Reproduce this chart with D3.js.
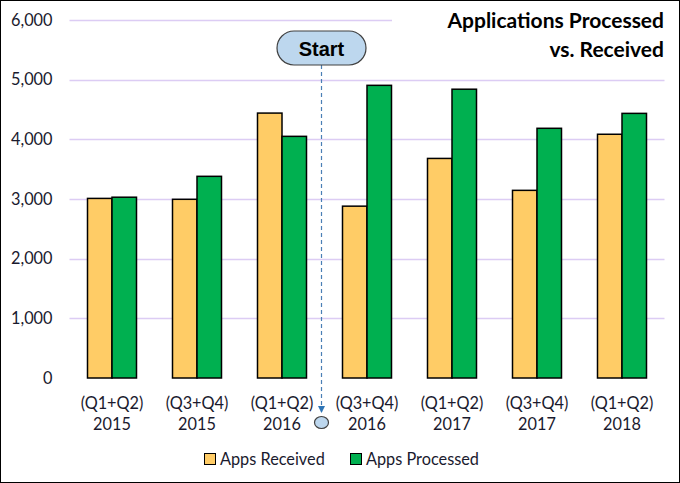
<!DOCTYPE html>
<html><head><meta charset="utf-8">
<script src="https://cdn.jsdelivr.net/npm/d3@7"></script>
<style>
html,body{margin:0;padding:0;background:#fff;}
svg{display:block;font-family:"Lato","Liberation Sans",sans-serif;}
</style></head>
<body>
<svg id="chart" width="680" height="483"></svg>
<script>
const periods = ["(Q1+Q2)","(Q3+Q4)","(Q1+Q2)","(Q3+Q4)","(Q1+Q2)","(Q3+Q4)","(Q1+Q2)"];
const years = ["2015","2015","2016","2016","2017","2017","2018"];
const appsReceived = [3010, 2995, 4440, 2880, 3680, 3145, 4085];
const appsProcessed = [3030, 3380, 4050, 4905, 4840, 4185, 4435];
const seriesNames = ["Apps Received","Apps Processed"];
const seriesColors = ["#FFCC66","#00B050"];
const yTicks = [0,1000,2000,3000,4000,5000,6000];
const titleLines = ["Applications Processed","vs. Received"];

(function(){
const svg = d3.select("#chart");
const W = 680, H = 483;
const pLeft = 69.5, pRight = 664.5, pTop = 20, pBottom = 378;
const fs = 16.3;

svg.append("rect").attr("x",0.5).attr("y",0.5).attr("width",W-1).attr("height",H-1)
  .attr("fill","#fff").attr("stroke","#000").attr("stroke-width",1);

const idx = d3.range(periods.length);
const x0 = d3.scaleBand().domain(idx).range([pLeft,pRight]).paddingInner(36/85).paddingOuter(18/85);
const x1 = d3.scaleBand().domain([0,1]).range([0,x0.bandwidth()]);
const y = d3.scaleLinear().domain([0,6000]).range([pBottom,pTop]);

// gridlines
svg.append("g").selectAll("line").data(yTicks.filter(d=>d>0)).join("line")
  .attr("x1",pLeft).attr("x2",pRight)
  .attr("y1",d=>Math.round(y(d))+0.5).attr("y2",d=>Math.round(y(d))+0.5)
  .attr("stroke","#DCCCF4").attr("stroke-width",1.3);

// y axis
const yAxis = svg.append("g").attr("transform",`translate(${pLeft},0)`)
  .call(d3.axisLeft(y).tickValues(yTicks).tickFormat(d3.format(",")).tickSize(0).tickPadding(17));
yAxis.select(".domain").remove();
yAxis.selectAll("text").attr("font-size",fs).attr("fill","#1a1a2e").attr("font-family","Lato, sans-serif");

// bars
const data = idx.map(i=>[appsReceived[i], appsProcessed[i]]);
const groups = svg.append("g").selectAll("g").data(data).join("g")
  .attr("transform",(d,i)=>`translate(${x0(i)},0)`);
groups.selectAll("rect").data(d=>d.map((v,k)=>({v,k}))).join("rect")
  .attr("x",d=>x1(d.k)).attr("y",d=>y(d.v))
  .attr("width",x1.bandwidth()).attr("height",d=>y(0)-y(d.v))
  .attr("fill",d=>seriesColors[d.k]).attr("stroke","#000").attr("stroke-width",1.5);

// x axis labels
const xAxis = svg.append("g").attr("transform",`translate(0,${pBottom})`)
  .call(d3.axisBottom(x0).tickSize(0).tickFormat(()=>""));
xAxis.select(".domain").remove();
xAxis.selectAll(".tick text").remove();
xAxis.selectAll(".tick").each(function(i){
  const t = d3.select(this).append("text").attr("fill","#1a1a2e").attr("font-size",fs)
    .attr("text-anchor","middle").attr("font-family","Lato, sans-serif");
  t.append("tspan").attr("x",0).attr("y",31).text(periods[i]);
  t.append("tspan").attr("x",0).attr("y",52).text(years[i]);
});

// title
const title = svg.append("g");
title.append("rect").attr("x",392).attr("y",5).attr("width",280).attr("height",62).attr("fill","#fff");
titleLines.forEach((s,k)=>{
  title.append("text").attr("x",664).attr("y",28+k*29).attr("text-anchor","end")
    .attr("font-size",21).attr("font-weight","bold").attr("fill","#000")
    .attr("font-family","Lato, sans-serif").text(s);
});

// Start annotation
const sx = x0(2) + x0.bandwidth() + (x0.step()-x0.bandwidth())/2 - 3;
const defs = svg.append("defs");
defs.append("marker").attr("id","arr").attr("viewBox","0 0 10 10").attr("refX",10).attr("refY",5)
  .attr("markerWidth",7).attr("markerHeight",7).attr("orient","auto").attr("markerUnits","userSpaceOnUse")
  .append("path").attr("d","M0,0 L10,5 L0,10 Z").attr("fill","#2E75B6");
svg.append("line").attr("x1",sx).attr("x2",sx).attr("y1",65).attr("y2",413)
  .attr("stroke","#4A7FB5").attr("stroke-width",1.2).attr("stroke-dasharray","4,3")
  .attr("marker-end","url(#arr)");
svg.append("rect").attr("x",sx-44.5).attr("y",31).attr("width",89).attr("height",34)
  .attr("rx",17).attr("ry",17).attr("fill","#BDD7EE").attr("stroke","#404040").attr("stroke-width",1.2);
svg.append("text").attr("x",sx).attr("y",55.5).attr("text-anchor","middle")
  .attr("font-family","Liberation Sans, Arial, sans-serif").attr("font-weight","bold")
  .attr("font-size",20).attr("fill","#000").text("Start");
svg.append("ellipse").attr("cx",sx).attr("cy",422.5).attr("rx",7).attr("ry",6)
  .attr("fill","#BDD7EE").attr("stroke","#404040").attr("stroke-width",1.2);

// legend
const legendX = [204, 350];
const leg = svg.append("g");
seriesNames.forEach((n,k)=>{
  leg.append("rect").attr("x",legendX[k]+0.5).attr("y",453.5).attr("width",11).attr("height",11)
    .attr("fill",seriesColors[k]).attr("stroke","#000").attr("stroke-width",1);
  leg.append("text").attr("x",legendX[k]+16).attr("y",465).attr("font-size",fs)
    .attr("fill","#1a1a2e").attr("font-family","Lato, sans-serif").text(n);
});
})();
</script>
</body></html>
